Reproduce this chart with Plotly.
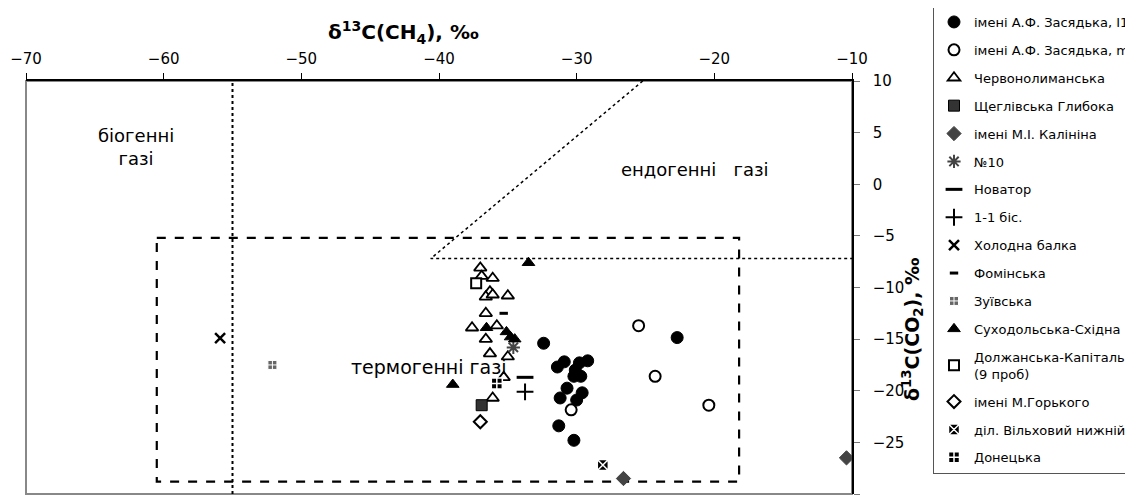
import plotly.graph_objects as go

# ---------------- data ----------------
zas_l1_x = [-32.4, -30.9, -31.4, -29.8, -29.2, -30.1, -30.2, -29.7, -30.7, -29.6, -31.2, -30.0, -31.3, -30.2, -22.7]
zas_l1_y = [-15.4, -17.2, -17.7, -17.3, -17.1, -18.0, -18.6, -18.6, -19.75, -20.2, -20.7, -20.9, -23.4, -24.8, -14.85]

zas_m3_x = [-25.5, -24.3, -20.4, -30.4]
zas_m3_y = [-13.7, -18.6, -21.4, -21.85]

chervon_x = [-37.0, -36.9, -36.1, -36.3, -36.6, -36.1, -35.0, -36.6, -37.6, -35.8, -36.6, -36.3, -35.0, -35.3, -36.1]
chervon_y = [-8.1, -8.9, -9.1, -10.4, -10.9, -10.7, -10.8, -12.5, -13.9, -13.7, -15.0, -16.4, -16.7, -18.7, -20.7]

shchegl_x = [-36.9]
shchegl_y = [-21.4]

kalinin_x = [-26.6, -10.4]
kalinin_y = [-28.5, -26.5]

n10_x = [-34.6]
n10_y = [-15.8]

novator_x = [-33.75]
novator_y = [-18.7]

bis_x = [-33.75]
bis_y = [-20.1]

kholodna_x = [-55.9]
kholodna_y = [-14.9]

fomin_x = [-35.3]
fomin_y = [-12.5]

zuiv_x = [-52.1]
zuiv_y = [-17.5]

sukhod_x = [-33.5, -36.55, -35.1, -34.8, -34.5, -39.0]
sukhod_y = [-7.6, -13.9, -14.3, -14.8, -15.0, -19.4]

dolzh_x = [-37.3]
dolzh_y = [-9.6]

gorky_x = [-37.0]
gorky_y = [-23.0]

vilkh_x = [-28.1]
vilkh_y = [-27.2]

donetsk_x = [-35.8]
donetsk_y = [-19.3]

# region boundaries
bio_line_x = [-55, -55]
bio_line_y = [-30, 10]
endo_line_x = [-25.2, -40.6, -10]
endo_line_y = [10, -7.2, -7.2]
thermo_box_x = [-60.5, -18.2, -18.2, -60.5, -60.5]
thermo_box_y = [-5.2, -5.2, -28.8, -28.8, -5.2]

x_ticks = [-70, -60, -50, -40, -30, -20, -10]
y_ticks = [10, 5, 0, -5, -10, -15, -20, -25, -30]

FONT = "DejaVu Sans"

fig = go.Figure()

# boundary lines
fig.add_trace(go.Scatter(x=bio_line_x, y=bio_line_y, mode="lines",
                         line=dict(color="black", width=2, dash="dot"),
                         showlegend=False, hoverinfo="skip"))
fig.add_trace(go.Scatter(x=endo_line_x, y=endo_line_y, mode="lines",
                         line=dict(color="black", width=1.5, dash="dot"),
                         showlegend=False, hoverinfo="skip"))
fig.add_trace(go.Scatter(x=thermo_box_x, y=thermo_box_y, mode="lines",
                         line=dict(color="black", width=2.2, dash="dash"),
                         showlegend=False, hoverinfo="skip"))

series = [
    ("імені А.Ф. Засядька, І1", zas_l1_x, zas_l1_y, dict(symbol="circle", size=12, color="black", line=dict(color="black", width=1))),
    ("імені А.Ф. Засядька, m3", zas_m3_x, zas_m3_y, dict(symbol="circle", size=11, color="white", line=dict(color="black", width=2))),
    ("Червонолиманська", chervon_x, chervon_y, dict(symbol="triangle-up", size=11, color="white", line=dict(color="black", width=1.8))),
    ("Щеглівська Глибока", shchegl_x, shchegl_y, dict(symbol="square", size=11, color="#333333", line=dict(color="black", width=1))),
    ("імені М.І. Калініна", kalinin_x, kalinin_y, dict(symbol="diamond", size=11, color="#444444", line=dict(color="#444444", width=1))),
    ("№10", n10_x, n10_y, dict(symbol="asterisk-open", size=11, color="#444444", line=dict(color="#444444", width=2))),
    ("Новатор", novator_x, novator_y, dict(symbol="line-ew-open", size=12, color="black", line=dict(color="black", width=3))),
    ("1-1 біс.", bis_x, bis_y, dict(symbol="cross-thin-open", size=12, color="black", line=dict(color="black", width=2))),
    ("Холодна балка", kholodna_x, kholodna_y, dict(symbol="x-thin-open", size=10, color="black", line=dict(color="black", width=2.5))),
    ("Фомінська", fomin_x, fomin_y, dict(symbol="line-ew-open", size=6, color="black", line=dict(color="black", width=3))),
    ("Зуївська", zuiv_x, zuiv_y, dict(symbol="square-cross", size=9, color="#666666", line=dict(color="white", width=1))),
    ("Суходольська-Східна", sukhod_x, sukhod_y, dict(symbol="triangle-up", size=11, color="black", line=dict(color="black", width=1))),
    ("Должанська-Капітальна<br>(9 проб)", dolzh_x, dolzh_y, dict(symbol="square", size=10, color="white", line=dict(color="black", width=2))),
    ("імені М.Горького", gorky_x, gorky_y, dict(symbol="diamond", size=10, color="white", line=dict(color="black", width=2))),
    ("діл. Вільховий нижній", vilkh_x, vilkh_y, dict(symbol="square-x", size=11, color="black", line=dict(color="white", width=1.5))),
    ("Донецька", donetsk_x, donetsk_y, dict(symbol="square-cross", size=11, color="black", line=dict(color="white", width=1.5))),
]

for i, (name, xs, ys, mk) in enumerate(series):
    fig.add_trace(go.Scatter(x=xs, y=ys, mode="markers", name=name, marker=mk,
                             legendgroup=f"g{i}", legendrank=i + 1))

# plot area in page pixels (page has 8px body margin)
PL, PR, PT, PB = 26, 852, 81, 494
def px_x(p):
    return (p - PL) / (PR - PL)
def px_y(p):
    return (PB - p) / (PB - PT)

# region labels
fig.add_annotation(x=-62.0, y=3.6, xref="x", yref="y", text="біогенні<br>газі",
                   showarrow=False, font=dict(family=FONT, size=18, color="black"))
fig.add_annotation(x=-21.4, y=1.4, xref="x", yref="y", text="ендогенні\u00a0\u00a0\u00a0газі",
                   showarrow=False, font=dict(family=FONT, size=18, color="black"))
fig.add_annotation(x=-40.7, y=-17.7, xref="x", yref="y", text="термогенні газі",
                   showarrow=False, font=dict(family=FONT, size=19, color="black"))

# axis titles
fig.add_annotation(x=px_x(403), y=px_y(33), xref="paper", yref="paper",
                   xanchor="center", yanchor="middle",
                   text="<b>δ<sup>13</sup>C(CH<sub>4</sub>), ‰</b>", showarrow=False,
                   font=dict(family=FONT, size=20, color="black"))
fig.add_annotation(x=px_x(912), y=px_y(330), xref="paper", yref="paper",
                   xanchor="center", yanchor="middle",
                   text="<b>δ<sup>13</sup>C(CO<sub>2</sub>), ‰</b>", showarrow=False, textangle=-90,
                   font=dict(family=FONT, size=19, color="black"))

# plot frame (grey left/bottom)
fig.add_shape(type="rect", xref="paper", yref="paper", x0=0, y0=0, x1=1, y1=1,
              line=dict(color="#888888", width=2), layer="below")

fig.update_xaxes(range=[-70, -10], side="top", tickvals=x_ticks, ticks="outside", ticklen=6,
                 tickcolor="black", showline=True, linecolor="black", linewidth=1.5,
                 showgrid=False, zeroline=False, ticklabelstandoff=3,
                 tickfont=dict(family=FONT, size=15, color="black"))
fig.update_yaxes(range=[-30, 10], side="right", tickvals=y_ticks, ticks="outside", ticklen=6,
                 tickcolor="#777777", showline=True, linecolor="black", linewidth=1.5,
                 showgrid=False, zeroline=False, ticklabelstandoff=10,
                 tickfont=dict(family=FONT, size=15, color="black"))

W, H = 1125, 495
fig.update_layout(
    width=W, height=H,
    margin=dict(l=PL - 8, r=W - (PR - 8), t=PT - 8, b=H - (PB - 8), autoexpand=False),
    paper_bgcolor="white", plot_bgcolor="white",
    font=dict(family=FONT, color="black"),
    legend=dict(x=px_x(933), y=px_y(6), xanchor="left", yanchor="top",
                bgcolor="white", bordercolor="#555555", borderwidth=1,
                font=dict(family=FONT, size=13, color="black"),
                tracegroupgap=8, itemsizing="trace", maxheight=600),
)

fig.write_html("out.html")
